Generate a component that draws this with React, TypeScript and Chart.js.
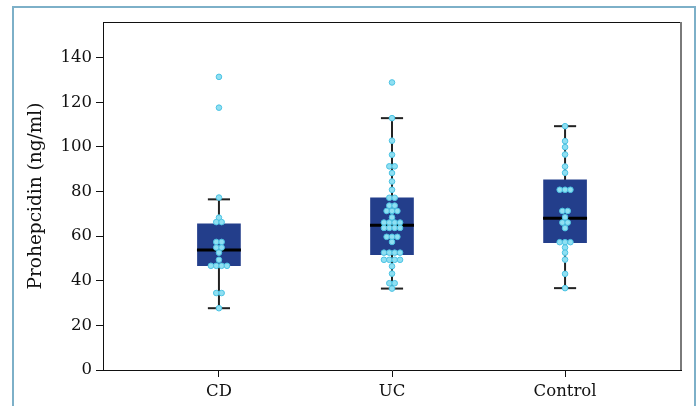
import React, { useEffect, useRef } from "react";
import { Chart, registerables } from "chart.js";

Chart.register(...registerables);

const categories = ["CD", "UC", "Control"];

const cdValues = [131.4, 117.6, 77.3, 68.3, 66.3, 66.3, 57.4, 57.4, 54.9, 54.9, 52.6, 49.4, 46.7, 46.7, 46.7, 46.7, 34.5, 34.5, 27.7];
const ucValues = [128.9, 112.9, 102.8, 96.5, 91.3, 91.3, 88.3, 84.5, 80.8, 77.2, 77.2, 73.7, 73.7, 71.3, 71.3, 71.3, 68.4, 66.1, 66.1, 66.1, 66.1, 63.7, 63.7, 63.7, 63.7, 59.7, 59.7, 59.7, 57.4, 52.6, 52.6, 52.6, 52.6, 49.4, 49.4, 49.4, 49.4, 46.5, 43.2, 38.9, 38.9, 36.5];
const controlValues = [109.3, 102.6, 99.9, 96.6, 91.2, 88.4, 80.8, 80.8, 80.8, 71.3, 71.3, 68.5, 66.1, 66.1, 63.6, 57.3, 57.3, 57.3, 54.9, 52.6, 49.5, 43.1, 36.7];

const whiskerLow = [27.7, 36.5, 36.7];
const quartile1 = [46.8, 51.7, 57.1];
const medians = [53.8, 64.9, 68.0];
const quartile3 = [65.5, 77.2, 85.3];
const whiskerHigh = [76.5, 112.9, 109.3];

const yTicks = [0, 20, 40, 60, 80, 100, 120, 140];

const BOX_COLOR = "#233e8b";
const DOT_FILL = "#8fdff2";
const DOT_BORDER = "#4cc3e3";
const DOT_STEP = 0.031;
const CAP_HALF = 0.064;
const MED_HALF = 0.127;

function swarm(values: number[], xi: number) {
  const counts = new Map<number, number>();
  values.forEach((v) => counts.set(v, (counts.get(v) || 0) + 1));
  const seen = new Map<number, number>();
  return values.map((v) => {
    const n = counts.get(v) || 1;
    const i = seen.get(v) || 0;
    seen.set(v, i + 1);
    return { x: xi + (i - (n - 1) / 2) * DOT_STEP, y: v };
  });
}

function seg(x1: number, y1: number, x2: number, y2: number, color: string, width: number, order: number) {
  return {
    type: "line" as const,
    data: [{ x: x1, y: y1 }, { x: x2, y: y2 }],
    borderColor: color,
    borderWidth: width,
    pointRadius: 0,
    showLine: true,
    fill: false,
    order,
  };
}

export default function App() {
  const ref = useRef<HTMLCanvasElement | null>(null);
  useEffect(() => {
    if (!ref.current) return;
    const groups = [cdValues, ucValues, controlValues];
    const datasets: any[] = [];
    categories.forEach((_, i) => {
      datasets.push(seg(i, whiskerLow[i], i, whiskerHigh[i], "#222", 2, 5));
      datasets.push(seg(i - CAP_HALF, whiskerLow[i], i + CAP_HALF, whiskerLow[i], "#222", 2, 5));
      datasets.push(seg(i - CAP_HALF, whiskerHigh[i], i + CAP_HALF, whiskerHigh[i], "#222", 2, 5));
    });
    datasets.push({
      type: "bar",
      data: categories.map((_, i) => ({ x: i, y: [quartile1[i], quartile3[i]] })),
      backgroundColor: BOX_COLOR,
      borderWidth: 0,
      barThickness: 43,
      order: 4,
    });
    categories.forEach((_, i) => {
      datasets.push(seg(i - MED_HALF, medians[i], i + MED_HALF, medians[i], "#000", 3, 3));
    });
    groups.forEach((vals, i) => {
      datasets.push({
        type: "scatter",
        data: swarm(vals, i),
        backgroundColor: DOT_FILL,
        borderColor: DOT_BORDER,
        borderWidth: 1,
        pointRadius: 2.8,
        order: 1,
      });
    });

    const frame = {
      id: "frame",
      afterDraw(chart: any) {
        const { ctx, chartArea } = chart;
        ctx.save();
        ctx.strokeStyle = "#111";
        ctx.lineWidth = 1;
        ctx.beginPath();
        ctx.moveTo(chartArea.left, chartArea.top + 0.5);
        ctx.lineTo(chartArea.right, chartArea.top + 0.5);
        ctx.stroke();
        ctx.strokeStyle = "#7a7a7a";
        ctx.lineWidth = 2;
        ctx.beginPath();
        ctx.moveTo(chartArea.right, chartArea.top);
        ctx.lineTo(chartArea.right, chartArea.bottom);
        ctx.stroke();
        ctx.restore();
      },
    };

    const font = { family: "'DejaVu Serif', serif", size: 16.5 };
    const chart = new Chart(ref.current, {
      type: "bar",
      data: { datasets },
      plugins: [frame],
      options: {
        animation: false,
        responsive: false,
        maintainAspectRatio: false,
        layout: { padding: { left: 0, top: 22, right: 18, bottom: 0 } },
        plugins: { legend: { display: false }, tooltip: { enabled: false } },
        scales: {
          x: {
            type: "linear",
            min: -0.67,
            max: 2.67,
            offset: false,
            afterFit: (s: any) => { s.height = 36; },
            afterBuildTicks: (s: any) => { s.ticks = categories.map((_, i) => ({ value: i })); },
            ticks: {
              font,
              color: "#111",
              padding: 5,
              maxRotation: 0,
              autoSkip: false,
              callback: (v: any) => categories[Math.round(Number(v))] ?? "",
            },
            grid: { offset: false, drawOnChartArea: false, drawTicks: true, tickLength: 7, color: "#111", tickWidth: 1 },
            border: { display: true, color: "#111", width: 1 },
          },
          y: {
            type: "linear",
            min: 0,
            max: 156,
            afterFit: (s: any) => { s.width = 103; },
            afterBuildTicks: (s: any) => { s.ticks = yTicks.map((v) => ({ value: v })); },
            ticks: { font, color: "#111", padding: 4 },
            grid: { offset: false, drawOnChartArea: false, drawTicks: true, tickLength: 7, color: "#111", tickWidth: 1 },
            border: { display: true, color: "#111", width: 1 },
            title: {
              display: true,
              text: "Prohepcidin (ng/ml)",
              font: { family: "'DejaVu Serif', serif", size: 18.5 },
              color: "#111",
              padding: { top: 25, bottom: 0 },
            },
          },
        },
      } as any,
    });
    return () => chart.destroy();
  }, []);

  return (
    <div style={{ position: "fixed", left: 0, top: 0, width: 699, height: 406, background: "#fff", overflow: "hidden" }}>
      <div
        style={{
          position: "absolute",
          left: 12,
          top: 6,
          width: 680,
          height: 460,
          borderTop: "2px solid #7db0c8",
          borderLeft: "2px solid #7db0c8",
          borderRight: "2px solid #7db0c8",
        }}
      />
      <canvas ref={ref} width={699} height={406} style={{ position: "absolute", left: 0, top: 0 }} />
    </div>
  );
}
